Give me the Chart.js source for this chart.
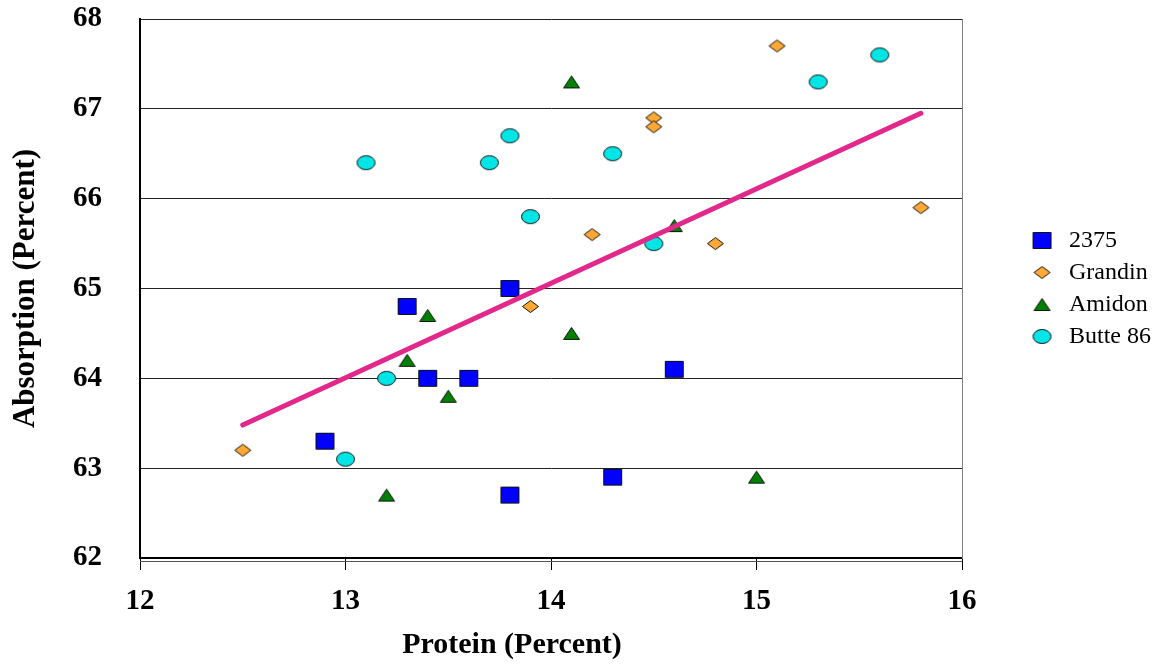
<!DOCTYPE html>
<html>
<head>
<meta charset="utf-8">
<script src="https://cdn.jsdelivr.net/npm/chart.js@4"></script>
<style>
  html, body { margin: 0; padding: 0; background: #fff; }
  #wrap { width: 1164px; height: 664px; }
</style>
</head>
<body>
<div id="wrap"><canvas id="myChart" width="1164" height="664"></canvas></div>
<script>
// Данные
const protein2375 = [12.9, 13.3, 13.4, 13.6, 13.8, 13.8, 14.3, 14.6];
const absorb2375 = [63.3, 64.8, 64.0, 64.0, 65.0, 62.7, 62.9, 64.1];
const proteinGrandin = [12.5, 13.9, 14.2, 14.5, 14.5, 14.8, 15.1, 15.8];
const absorbGrandin = [63.2, 64.8, 65.6, 66.9, 66.8, 65.5, 67.7, 65.9];
const proteinAmidon = [13.2, 13.3, 13.4, 13.5, 14.1, 14.1, 14.6, 15.0];
const absorbAmidon = [62.7, 64.2, 64.7, 63.8, 64.5, 67.3, 65.7, 62.9];
const proteinButte = [13.0, 13.1, 13.2, 13.7, 13.8, 13.9, 14.3, 14.5, 15.3, 15.6];
const absorbButte = [63.1, 66.4, 64.0, 66.4, 66.7, 65.8, 66.5, 65.5, 67.3, 67.6];
// Линия тренда (концы)
const trendProtein = [12.5, 15.8];
const trendAbsorb = [63.48, 66.95];

const xTicks = [12, 13, 14, 15, 16];
const yTicks = [62, 63, 64, 65, 66, 67, 68];
const seriesNames = ['2375', 'Grandin', 'Amidon', 'Butte 86'];
const xTitle = 'Protein (Percent)';

const toPoints = (xs, ys) => xs.map((x, i) => ({ x: x, y: ys[i] }));

// Маркеры в виде маленьких canvas
function makeMarker(w, h, fill, drawPath) {
    const c = document.createElement('canvas');
    c.width = w + 2; c.height = h + 2;
    const g = c.getContext('2d');
    g.translate(1, 1);
    g.beginPath();
    drawPath(g, w, h);
    g.closePath();
    g.fillStyle = fill;
    g.fill();
    g.lineWidth = 1;
    g.strokeStyle = '#111';
    g.stroke();
    return c;
}
const squareMark = makeMarker(19, 17, '#0000FF', (g, w, h) => g.rect(0.5, 0.5, w - 1, h - 1));
const diamondMark = makeMarker(17, 13, '#FFA833', (g, w, h) => {
    g.moveTo(w / 2, 0.5); g.lineTo(w - 0.5, h / 2); g.lineTo(w / 2, h - 0.5); g.lineTo(0.5, h / 2);
});
const triangleMark = makeMarker(17, 13, '#008000', (g, w, h) => {
    g.moveTo(w / 2, 0.5); g.lineTo(w - 0.5, h - 0.5); g.lineTo(0.5, h - 0.5);
});
const ellipseMark = makeMarker(19, 15, '#00E6E6', (g, w, h) => g.ellipse(w / 2, h / 2, w / 2 - 0.5, h / 2 - 0.5, 0, 0, Math.PI * 2));

const serif = 'Liberation Serif, Times New Roman, serif';

// Подпись оси X (в оригинале смещена левее центра) + вторая линия под осью
const xTitlePlugin = {
    id: 'xTitlePlugin',
    afterDraw(chart) {
        const { ctx, chartArea } = chart;
        ctx.save();
        ctx.strokeStyle = '#555';
        ctx.lineWidth = 1;
        ctx.beginPath();
        ctx.moveTo(chartArea.left, chartArea.bottom + 3.5);
        ctx.lineTo(chartArea.right, chartArea.bottom + 3.5);
        ctx.stroke();
        ctx.font = 'bold 30px ' + serif;
        ctx.fillStyle = '#000';
        ctx.textAlign = 'center';
        ctx.textBaseline = 'middle';
        ctx.fillText(xTitle, 512, 645);
        ctx.restore();
    }
};

const ctx = document.getElementById('myChart').getContext('2d');
new Chart(ctx, {
    type: 'scatter',
    data: {
        datasets: [
            {
                type: 'line', label: 'trend', order: 0,
                data: toPoints(trendProtein, trendAbsorb),
                borderColor: '#E2288A', borderWidth: 5, borderCapStyle: 'round',
                pointRadius: 0, fill: false, yAxisID: 'y'
            },
            { label: seriesNames[0], order: 1, data: toPoints(protein2375, absorb2375), pointStyle: squareMark },
            { label: seriesNames[1], order: 2, data: toPoints(proteinGrandin, absorbGrandin), pointStyle: diamondMark },
            { label: seriesNames[2], order: 3, data: toPoints(proteinAmidon, absorbAmidon), pointStyle: triangleMark },
            { label: seriesNames[3], order: 4, data: toPoints(proteinButte, absorbButte), pointStyle: ellipseMark }
        ]
    },
    options: {
        responsive: false,
        animation: false,
        layout: { padding: { top: 19, right: 3, bottom: 0, left: 0 } },
        plugins: {
            tooltip: { enabled: false },
            legend: {
                position: 'right',
                fullSize: false,
                labels: {
                    filter: (item) => item.text !== 'trend',
                    usePointStyle: true,
                    pointStyleWidth: 30,
                    padding: 8,
                    color: '#000',
                    font: { family: serif, size: 24 }
                }
            }
        },
        scales: {
            x: {
                type: 'linear', min: 12, max: 16,
                afterBuildTicks: (axis) => { axis.ticks = xTicks.map(v => ({ value: v })); },
                afterFit: (axis) => { axis.height = 106; },
                grid: { drawOnChartArea: false, drawTicks: true, tickLength: 12, color: '#000' },
                border: { color: '#000', width: 2 },
                ticks: { color: '#000', padding: 14, font: { family: serif, size: 29, weight: 'bold' } },
                title: { display: false }
            },
            y: {
                type: 'linear', min: 62, max: 68,
                afterBuildTicks: (axis) => { axis.ticks = yTicks.map(v => ({ value: v })); },
                afterFit: (axis) => { axis.width = 140; },
                grid: { drawTicks: true, tickLength: 38, tickColor: 'rgba(0,0,0,0)', color: '#222', lineWidth: 1 },
                border: { color: '#000', width: 2 },
                ticks: { color: '#000', padding: 0, font: { family: serif, size: 29, weight: 'bold' } },
                title: { display: true, text: 'Absorption (Percent)', color: '#000', padding: { top: 7, bottom: 0 },
                         font: { family: serif, size: 31, weight: 'bold' } }
            },
            y2: {
                type: 'linear', position: 'right', min: 62, max: 68,
                afterFit: (axis) => { axis.width = 57; },
                grid: { display: false },
                ticks: { display: false },
                border: { display: true, color: '#808080', width: 1 }
            }
        }
    },
    plugins: [xTitlePlugin]
});
</script>
</body>
</html>
